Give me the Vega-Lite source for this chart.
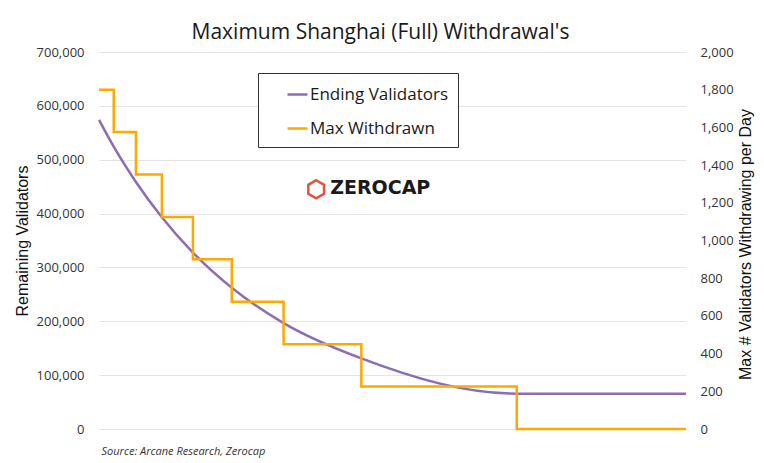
{
  "$schema": "https://vega.github.io/schema/vega-lite/v6.json",
  "width": 587,
  "height": 377,
  "autosize": {"type": "none"},
  "padding": {"left": 99, "top": 52, "right": 78, "bottom": 34},
  "background": "white",
  "title": {
    "text": "Maximum Shanghai (Full) Withdrawal's",
    "font": "Open Sans",
    "fontSize": 21,
    "fontWeight": "normal",
    "color": "#1a1a1a",
    "anchor": "middle",
    "frame": "group",
    "dx": -12,
    "offset": 3
  },
  "config": {
    "view": {"stroke": null},
    "axis": {"labelFont": "Open Sans", "labelFontSize": 13, "labelColor": "#333333", "titleFont": "Liberation Sans", "titleFontSize": 16, "titleFontWeight": "normal", "titleColor": "#111111", "ticks": false, "domain": false, "gridColor": "#e5e5e5", "gridWidth": 1}
  },
  "data": {
    "values": [
      {"day": 0, "validators": 574000, "withdrawn": 1800},
      {"day": 27.6, "validators": 524288, "withdrawn": 1575},
      {"day": 69.2, "validators": 458752, "withdrawn": 1350},
      {"day": 117.8, "validators": 393216, "withdrawn": 1125},
      {"day": 176.0, "validators": 327680, "withdrawn": 900},
      {"day": 248.8, "validators": 262144, "withdrawn": 675},
      {"day": 345.9, "validators": 196608, "withdrawn": 450},
      {"day": 491.6, "validators": 131072, "withdrawn": 225},
      {"day": 782.8, "validators": 65536, "withdrawn": 0},
      {"day": 1100, "validators": 65536, "withdrawn": 0}
    ]
  },
  "encoding": {
    "x": {
      "field": "day",
      "type": "quantitative",
      "scale": {"domain": [0, 1100], "nice": false, "zero": false},
      "axis": {
        "labels": false,
        "grid": false,
        "title": "Source: Arcane Research, Zerocap",
        "titleFont": "Open Sans",
        "titleFontSize": 11,
        "titleFontStyle": "italic",
        "titleColor": "#333333",
        "titleAnchor": "start",
        "titleAlign": "left",
        "titlePadding": 16,
        "titleX": 2
      }
    }
  },
  "layer": [
    {
      "mark": {"type": "line", "interpolate": "monotone", "strokeWidth": 2.5},
      "encoding": {
        "y": {
          "field": "validators",
          "type": "quantitative",
          "scale": {"domain": [0, 700000], "nice": false},
          "axis": {
            "orient": "left",
            "title": "Remaining Validators",
            "values": [0, 100000, 200000, 300000, 400000, 500000, 600000, 700000],
            "format": ",.0f",
            "labelPadding": 15,
            "titlePadding": 6,
            "grid": true
          }
        },
        "color": {
          "datum": "Ending Validators",
          "type": "nominal",
          "scale": {"domain": ["Ending Validators", "Max Withdrawn"], "range": ["#8A6DB3", "#FFA800"]},
          "legend": {
            "title": null,
            "orient": "none",
            "legendX": 159,
            "legendY": 21,
            "symbolType": "stroke",
            "symbolSize": 400,
            "symbolStrokeWidth": 2.5,
            "symbolOffset": 18,
            "labelFont": "Open Sans",
            "labelFontSize": 17,
            "labelColor": "#1a1a1a",
            "labelOffset": 1,
            "rowPadding": 14,
            "padding": 10,
            "strokeColor": "#333333",
            "fillColor": "white"
          }
        }
      }
    },
    {
      "mark": {"type": "line", "interpolate": "step-after", "strokeWidth": 2.5},
      "encoding": {
        "y": {
          "field": "withdrawn",
          "type": "quantitative",
          "scale": {"domain": [0, 2000], "nice": false},
          "axis": {
            "orient": "right",
            "title": "Max # Validators Withdrawing per Day",
            "values": [0, 200, 400, 600, 800, 1000, 1200, 1400, 1600, 1800, 2000],
            "format": ",.0f",
            "labelPadding": 14,
            "titleAngle": 270,
            "titleBaseline": "middle",
            "titleX": 59,
            "titleY": 192,
            "grid": false
          }
        },
        "color": {"datum": "Max Withdrawn", "type": "nominal"}
      }
    },
    {
      "data": {"values": [{"day": 527, "validators": 447000, "label": "ZEROCAP"}]},
      "mark": {"type": "text", "font": "DejaVu Sans", "fontSize": 19, "fontWeight": "bold", "color": "#1a1a1a", "align": "center", "baseline": "middle"},
      "encoding": {
        "y": {"field": "validators", "type": "quantitative", "scale": {"domain": [0, 700000], "nice": false}, "axis": null},
        "text": {"field": "label"}
      }
    },
    {
      "data": {"values": [{"day": 407, "validators": 445000}]},
      "mark": {"type": "point", "shape": "M0,-1L0.866,-0.5L0.866,0.5L0,1L-0.866,0.5L-0.866,-0.5Z", "size": 330, "filled": false, "stroke": "#E0533F", "strokeWidth": 2.5, "opacity": 1},
      "encoding": {
        "y": {"field": "validators", "type": "quantitative", "scale": {"domain": [0, 700000], "nice": false}, "axis": null}
      }
    }
  ],
  "resolve": {"scale": {"y": "independent"}}
}
